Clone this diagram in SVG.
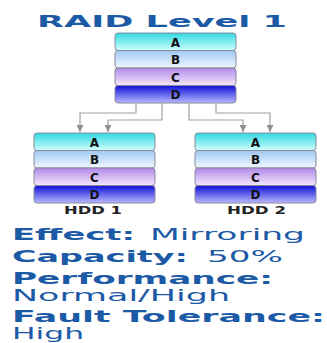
<svg xmlns="http://www.w3.org/2000/svg" width="327" height="343" viewBox="0 0 327 343">
<defs>
<linearGradient id="gA" x1="0" y1="0" x2="0" y2="1"><stop offset="0" stop-color="#30d8e0"/><stop offset="1" stop-color="#d0ffff"/></linearGradient>
<linearGradient id="gB" x1="0" y1="0" x2="0" y2="1"><stop offset="0" stop-color="#a0c8f0"/><stop offset="1" stop-color="#f0f8ff"/></linearGradient>
<linearGradient id="gC" x1="0" y1="0" x2="0" y2="1"><stop offset="0" stop-color="#b088e8"/><stop offset="1" stop-color="#f4e8ff"/></linearGradient>
<linearGradient id="gD" x1="0" y1="0" x2="0" y2="1"><stop offset="0" stop-color="#1010d8"/><stop offset="1" stop-color="#b8b8ff"/></linearGradient>
<marker id="arr" viewBox="0 0 8 8" refX="8" refY="4" markerWidth="7" markerHeight="7" orient="auto" markerUnits="userSpaceOnUse"><path d="M0,0 L8,4 L0,8 Z" fill="#909090"/></marker>
</defs>
<style>
.row{stroke:#8a8a9a;stroke-width:1}
.lt{font-family:"DejaVu Sans",Verdana,sans-serif;font-weight:900;font-size:12px;fill:#111;text-anchor:middle}
.con{fill:none;stroke:#a0a0a0;stroke-width:1.2}
.t{font-family:"DejaVu Sans",Verdana,sans-serif;fill:#1c5aa6;font-size:15px}
.b{font-weight:bold}
.hdd{font-family:"DejaVu Sans",Verdana,sans-serif;font-weight:bold;font-size:11px;fill:#222}
</style>
<rect width="327" height="343" fill="#ffffff"/>
<text class="t b" x="37" y="27" font-size="17" textLength="250" lengthAdjust="spacingAndGlyphs">RAID Level 1</text>
<g id="source">
<rect class="row" x="115" y="33" width="121" height="17.5" rx="3" fill="url(#gA)"/>
<rect class="row" x="115" y="50.5" width="121" height="17.5" rx="3" fill="url(#gB)"/>
<rect class="row" x="115" y="68" width="121" height="17.5" rx="3" fill="url(#gC)"/>
<rect class="row" x="115" y="85.5" width="121" height="17.5" rx="3" fill="url(#gD)"/>
<text class="lt" x="175.5" y="46.5">A</text>
<text class="lt" x="175.5" y="64">B</text>
<text class="lt" x="175.5" y="81.5">C</text>
<text class="lt" x="175.5" y="99">D</text>
</g>
<g id="connectors">
<path class="con" d="M136,103 V113 H80 V132" marker-end="url(#arr)"/>
<path class="con" d="M162,103 V120 H108 V132" marker-end="url(#arr)"/>
<path class="con" d="M189,103 V120 H243 V132" marker-end="url(#arr)"/>
<path class="con" d="M216,103 V113 H270 V132" marker-end="url(#arr)"/>
</g>
<g id="hdd1">
<rect class="row" x="34" y="133" width="121" height="17.5" rx="3" fill="url(#gA)"/>
<rect class="row" x="34" y="150.5" width="121" height="17.5" rx="3" fill="url(#gB)"/>
<rect class="row" x="34" y="168" width="121" height="17.5" rx="3" fill="url(#gC)"/>
<rect class="row" x="34" y="185.5" width="121" height="17.5" rx="3" fill="url(#gD)"/>
<text class="lt" x="94.5" y="146.5">A</text>
<text class="lt" x="94.5" y="164">B</text>
<text class="lt" x="94.5" y="181.5">C</text>
<text class="lt" x="94.5" y="199">D</text>
<text class="hdd" x="64" y="214" textLength="58" lengthAdjust="spacingAndGlyphs">HDD 1</text>
</g>
<g id="hdd2">
<rect class="row" x="195" y="133" width="121" height="17.5" rx="3" fill="url(#gA)"/>
<rect class="row" x="195" y="150.5" width="121" height="17.5" rx="3" fill="url(#gB)"/>
<rect class="row" x="195" y="168" width="121" height="17.5" rx="3" fill="url(#gC)"/>
<rect class="row" x="195" y="185.5" width="121" height="17.5" rx="3" fill="url(#gD)"/>
<text class="lt" x="255.5" y="146.5">A</text>
<text class="lt" x="255.5" y="164">B</text>
<text class="lt" x="255.5" y="181.5">C</text>
<text class="lt" x="255.5" y="199">D</text>
<text class="hdd" x="227" y="214" textLength="59" lengthAdjust="spacingAndGlyphs">HDD 2</text>
</g>
<g id="info">
<text class="t b" x="12" y="240" textLength="123" lengthAdjust="spacingAndGlyphs">Effect:</text>
<text class="t" x="150" y="240" textLength="155" lengthAdjust="spacingAndGlyphs">Mirroring</text>
<text class="t b" x="12" y="262" textLength="176" lengthAdjust="spacingAndGlyphs">Capacity:</text>
<text class="t" x="207" y="262" textLength="76" lengthAdjust="spacingAndGlyphs">50%</text>
<text class="t b" x="12" y="284" textLength="261" lengthAdjust="spacingAndGlyphs">Performance:</text>
<text class="t" x="12" y="301" textLength="218" lengthAdjust="spacingAndGlyphs">Normal/High</text>
<text class="t b" x="12" y="322" font-size="14.5" textLength="313" lengthAdjust="spacingAndGlyphs">Fault Tolerance:</text>
<text class="t" x="12" y="339" font-size="14" textLength="72" lengthAdjust="spacingAndGlyphs">High</text>
</g>
</svg>
